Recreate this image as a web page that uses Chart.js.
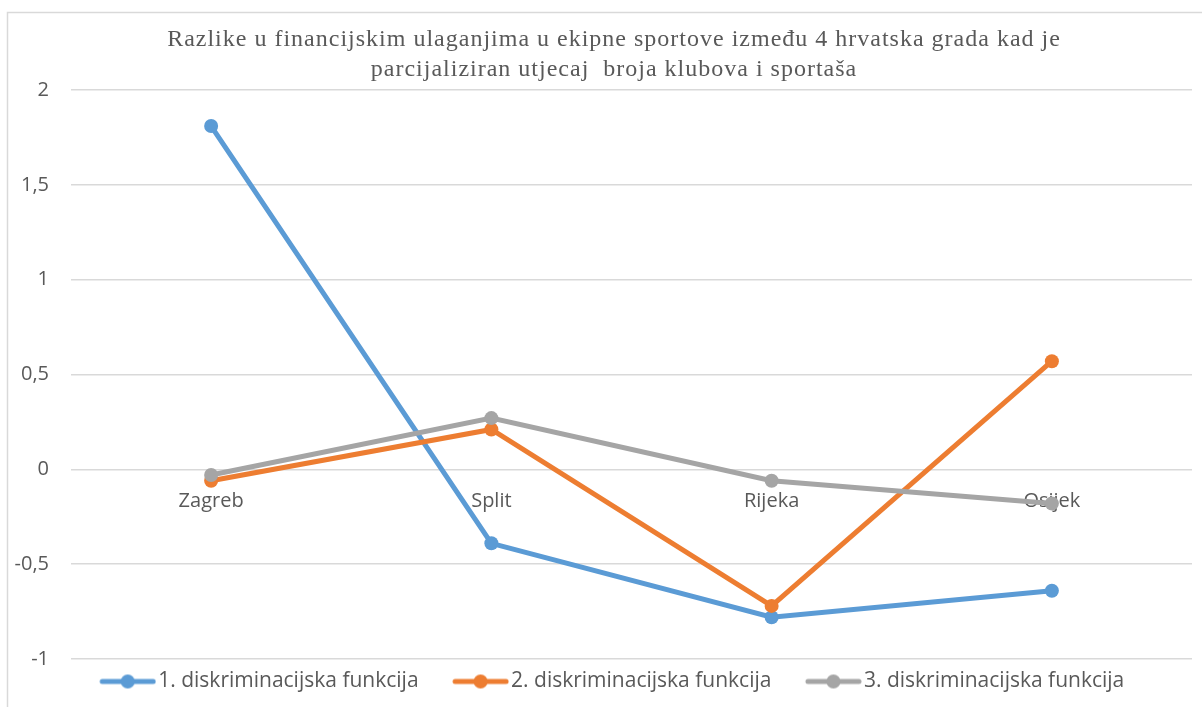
<!DOCTYPE html>
<html>
<head>
<meta charset="utf-8">
<script src="https://cdn.jsdelivr.net/npm/chart.js@4/dist/chart.umd.min.js"></script>
<style>
  html, body { margin: 0; padding: 0; background: #ffffff; }
  #wrap { width: 1202px; height: 707px; position: relative; }
</style>
</head>
<body>
<div id="wrap"><canvas id="c" width="1202" height="707"></canvas></div>
<script>
const titleLines = [
  "Razlike u financijskim ulaganjima u ekipne sportove između 4 hrvatska grada kad je",
  "parcijaliziran utjecaj  broja klubova i sportaša"
];
const categories = ["Zagreb", "Split", "Rijeka", "Osijek"];
const seriesNames = [
  "1. diskriminacijska funkcija",
  "2. diskriminacijska funkcija",
  "3. diskriminacijska funkcija"
];
const series1 = [1.81, -0.39, -0.78, -0.64];
const series2 = [-0.06, 0.21, -0.72, 0.57];
const series3 = [-0.03, 0.27, -0.06, -0.18];
const seriesColors = ["#5B9BD5", "#ED7D31", "#A5A5A5"];
const yMin = -1, yMax = 2, yStep = 0.5;

const FONT = "'Open Sans', 'Liberation Sans', sans-serif";
const TEXT = "#595959";
const FS = 20;
const LFS = 21;

// legend marker: line with circle, drawn into a small canvas
const LEG_P = 70, LEG_W = LEG_P + 17, LEG_H = 18, MARK_LEN = 56;
function makeMarker(color) {
  const cv = document.createElement('canvas');
  cv.width = LEG_W; cv.height = LEG_H;
  const g = cv.getContext('2d');
  const x0 = LEG_W - MARK_LEN, x1 = LEG_W - 1;
  g.strokeStyle = color; g.lineWidth = 5; g.lineCap = 'round';
  g.beginPath(); g.moveTo(x0 + 2, LEG_H / 2); g.lineTo(x1 - 2, LEG_H / 2); g.stroke();
  g.fillStyle = color;
  g.beginPath(); g.arc((x0 + x1) / 2, LEG_H / 2, 7, 0, Math.PI * 2); g.fill();
  return cv;
}
const markers = seriesColors.map(makeMarker);

const seriesValues = [series1, series2, series3];
const datasets = seriesValues.map((vals, i) => ({
  label: seriesNames[i],
  data: vals,
  borderColor: seriesColors[i],
  backgroundColor: seriesColors[i],
  borderWidth: 5,
  pointRadius: 7,
  pointHoverRadius: 7,
  pointBorderWidth: 0,
  tension: 0,
  order: 3 - i
}));

const framePlugin = {
  id: 'frame',
  beforeDraw(chart) {
    const ctx = chart.ctx;
    ctx.save();
    ctx.fillStyle = '#ffffff';
    ctx.fillRect(0, 0, chart.width, chart.height);
    ctx.strokeStyle = '#d9d9d9';
    ctx.lineWidth = 1.5;
    ctx.strokeRect(7.5, 12.5, 1400, 900);
    ctx.restore();
  },
  afterLayout(chart) {
    const tb = chart.titleBlock;
    if (tb) {
      tb.left += 13; tb.right += 13;
      if (!tb._spaced) {
        const orig = tb.draw;
        tb.draw = function (...args) {
          const ctx = this.ctx;
          ctx.save();
          ctx.letterSpacing = '1px';
          orig.apply(this, args);
          ctx.restore();
        };
        tb._spaced = true;
      }
    }
  }
};

new Chart(document.getElementById('c'), {
  type: 'line',
  data: { labels: categories, datasets },
  plugins: [framePlugin],
  options: {
    responsive: false,
    animation: false,
    layout: { padding: { left: 10, right: 10, top: 0, bottom: 5 } },
    plugins: {
      title: {
        display: true,
        text: titleLines,
        color: TEXT,
        font: { family: "'Liberation Serif', 'Times New Roman', serif", size: 24, weight: 'normal', lineHeight: 1.25 },
        padding: { top: 25, bottom: 5 }
      },
      legend: {
        position: 'bottom',
        labels: {
          usePointStyle: true,
          pointStyleWidth: LEG_P,
          padding: 12,
          color: TEXT,
          font: { family: FONT, size: LFS },
          sort: (a, b) => a.datasetIndex - b.datasetIndex,
          generateLabels(chart) {
            const items = Chart.defaults.plugins.legend.labels.generateLabels(chart);
            items.forEach(it => { it.pointStyle = markers[it.datasetIndex]; });
            return items;
          }
        }
      },
      tooltip: { enabled: false }
    },
    scales: {
      x: {
        type: 'category',
        offset: true,
        position: { y: 0 },
        grid: { display: false, drawTicks: false },
        border: { display: false },
        ticks: { color: TEXT, font: { family: FONT, size: FS }, padding: 20, maxRotation: 0, autoSkip: false }
      },
      y: {
        min: yMin, max: yMax,
        grid: { color: '#d9d9d9', lineWidth: 1.5, drawTicks: false },
        border: { display: false },
        ticks: {
          stepSize: yStep,
          color: TEXT,
          font: { family: FONT, size: FS },
          padding: 22,
          callback: v => String(v).replace('.', ',')
        },
        afterFit(scale) { scale.width = 61; }
      }
    }
  }
});
</script>
</body>
</html>
